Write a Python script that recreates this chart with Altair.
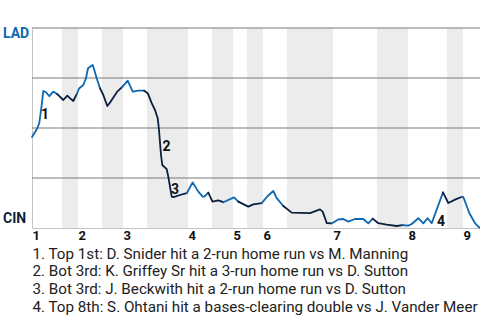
import altair as alt
import pandas as pd

# play position (x) and LAD win probability (p)
xs = [0, 5.3, 7.3, 9.7, 11.3, 14, 17.3, 21.3, 25.3, 31.3, 35.3, 37.3, 41.3, 44.7,
      47.3, 51.3, 54, 56, 60.7, 62, 64.7, 68, 71.3, 75.3, 78.7, 85.3, 90, 95.7,
      100.7, 106.3, 112, 115.7, 119.7, 123, 125.7, 127, 129, 130.3, 134.7, 136.3,
      139.7, 141.3, 148, 154.7, 160.7, 166.3, 170.7, 172.3, 176.3, 180.5, 186.3,
      191.3, 202, 206.3, 216.3, 221.3, 229.7, 235.7, 241.3, 244.7, 251.3, 259.7,
      278, 288, 290.7, 294.7, 299.7, 306.3, 311.3, 316.3, 323, 331.3, 336.3, 340.7,
      346.3, 354.7, 364.7, 370.7, 376.3, 379.7, 386.3, 391.3, 395.7, 399.7, 411,
      416.3, 423.5, 429.7, 431.3, 437.3, 443, 446.5, 448]
ps = [0.455, 0.499, 0.525, 0.615, 0.685, 0.679, 0.659, 0.682, 0.669, 0.640, 0.662,
      0.652, 0.635, 0.669, 0.699, 0.715, 0.749, 0.799, 0.815, 0.795, 0.749, 0.699,
      0.665, 0.610, 0.632, 0.682, 0.704, 0.737, 0.682, 0.687, 0.687, 0.674, 0.624,
      0.590, 0.549, 0.490, 0.365, 0.315, 0.294, 0.257, 0.157, 0.154, 0.165, 0.174,
      0.228, 0.182, 0.157, 0.157, 0.177, 0.132, 0.138, 0.129, 0.153, 0.132, 0.107,
      0.118, 0.124, 0.160, 0.185, 0.149, 0.110, 0.077, 0.074, 0.093, 0.082, 0.025,
      0.023, 0.043, 0.045, 0.032, 0.045, 0.045, 0.023, 0.047, 0.024, 0.017, 0.010,
      0.014, 0.012, 0.020, 0.049, 0.023, 0.049, 0.024, 0.178, 0.125, 0.143, 0.155,
      0.155, 0.075, 0.024, 0.006, 0.0]

# half-inning start positions (top 1st, bot 1st, top 2nd, ...)
half_starts = [0, 30, 46, 70, 91, 115, 156, 180, 201, 215, 231, 255, 301, 345,
               376, 415, 431]
x_end = 448
inning_starts = half_starts[0::2]

grid_vals = [0.25, 0.5, 0.75, 1.0]

events = ["1", "2", "3", "4"]
event_x = [13, 134.5, 143, 409]
event_p = [0.565, 0.405, 0.1925, 0.03]

teams = ["LAD", "CIN"]
team_p = [0.969, 0.044]

notes = [
    "1. Top 1st: D. Snider hit a 2-run home run vs M. Manning",
    "2. Bot 3rd: K. Griffey Sr hit a 3-run home run vs D. Sutton",
    "3. Bot 3rd: J. Beckwith hit a 2-run home run vs D. Sutton",
    "4. Top 8th: S. Ohtani hit a bases-clearing double vs J. Vander Meer",
]

BLUE = "#0d67b1"
NAVY = "#0b1f40"

# ---- build tables ----
def half_of(x):
    h = 0
    for i, s in enumerate(half_starts):
        if x >= s:
            h = i
    return h

rows = []
halves = [half_of(x) for x in xs]
for h in sorted(set(halves)):
    idx = [i for i, hh in enumerate(halves) if hh == h]
    if idx[0] > 0:
        idx = [idx[0] - 1] + idx
    for k, i in enumerate(idx):
        rows.append({"x": xs[i], "p": ps[i], "grp": h, "ord": k,
                     "side": "top" if h % 2 == 0 else "bottom"})
line_df = pd.DataFrame(rows)

band_df = pd.DataFrame({
    "x0": [half_starts[i] for i in range(1, len(half_starts), 2)],
    "x1": [half_starts[i + 1] if i + 1 < len(half_starts) else x_end
           for i in range(1, len(half_starts), 2)],
})
grid_df = pd.DataFrame({"g": grid_vals})
ev_df = pd.DataFrame({"t": events, "x": event_x, "p": event_p})
team_df = pd.DataFrame({"t": teams, "p": team_p, "c": [BLUE, NAVY]})

xscale = alt.Scale(domain=[0, x_end], nice=False, zero=False)
yscale = alt.Scale(domain=[0, 1], nice=False)

xaxis = alt.Axis(
    values=inning_starts,
    labelExpr=f"indexof({inning_starts}, datum.value) + 1",
    labelAlign="left", labelFlush=False, labelOverlap=False, labelBound=False,
    labelFont="Roboto", labelFontSize=13, labelFontWeight="bold",
    labelColor="#111", labelPadding=1,
    ticks=False, grid=False, domainColor="#c4c4c4", domainWidth=1,
    title=notes, titleFont="Roboto", titleFontSize=15.2, titleFontWeight="normal",
    titleColor="#222", titleAnchor="start", titleAlign="left",
    titleBaseline="top", titleX=0, titleY=18,
    titleLineHeight=17.8,
)
yaxis = alt.Axis(labels=False, ticks=False, grid=False, title=None,
                 domainColor="#c4c4c4", domainWidth=1)

bands = alt.Chart(band_df).mark_rect(color="#ececec").encode(
    x=alt.X("x0:Q", scale=xscale, axis=xaxis),
    x2="x1:Q",
    y=alt.datum(1, scale=yscale, axis=yaxis),
    y2=alt.datum(0),
)

grid = alt.Chart(grid_df).mark_rule(color="#7a7a7a", strokeWidth=1.2).encode(
    y=alt.Y("g:Q", scale=yscale, axis=yaxis)
)

line = alt.Chart(line_df).mark_line(strokeWidth=1.8, strokeJoin="round",
                                    strokeCap="round").encode(
    x=alt.X("x:Q", scale=xscale, axis=xaxis),
    y=alt.Y("p:Q", scale=yscale, axis=yaxis),
    detail="grp:N",
    order="ord:Q",
    color=alt.Color("side:N", scale=alt.Scale(domain=["top", "bottom"],
                                              range=[BLUE, NAVY]), legend=None),
)

ev = alt.Chart(ev_df).mark_text(font="Roboto", fontSize=14, fontWeight="bold",
                                color="#111", align="center",
                                baseline="middle").encode(
    x=alt.X("x:Q", scale=xscale, axis=xaxis),
    y=alt.Y("p:Q", scale=yscale, axis=yaxis),
    text="t:N",
)

team = alt.Chart(team_df).mark_text(font="Roboto", fontSize=14, fontWeight="bold",
                                    align="left", baseline="middle").encode(
    x=alt.value(-29),
    y=alt.Y("p:Q", scale=yscale, axis=yaxis),
    text="t:N",
    color=alt.Color("c:N", scale=None),
)

chart = alt.layer(bands, grid, line, ev, team).properties(
    width=448, height=200,
    autosize=alt.AutoSizeParams(type="none"),
    padding={"left": 32, "top": 28, "right": 0, "bottom": 92},
).configure_view(stroke=None)

chart.save("out.html", embed_options={"renderer": "svg", "actions": False})
